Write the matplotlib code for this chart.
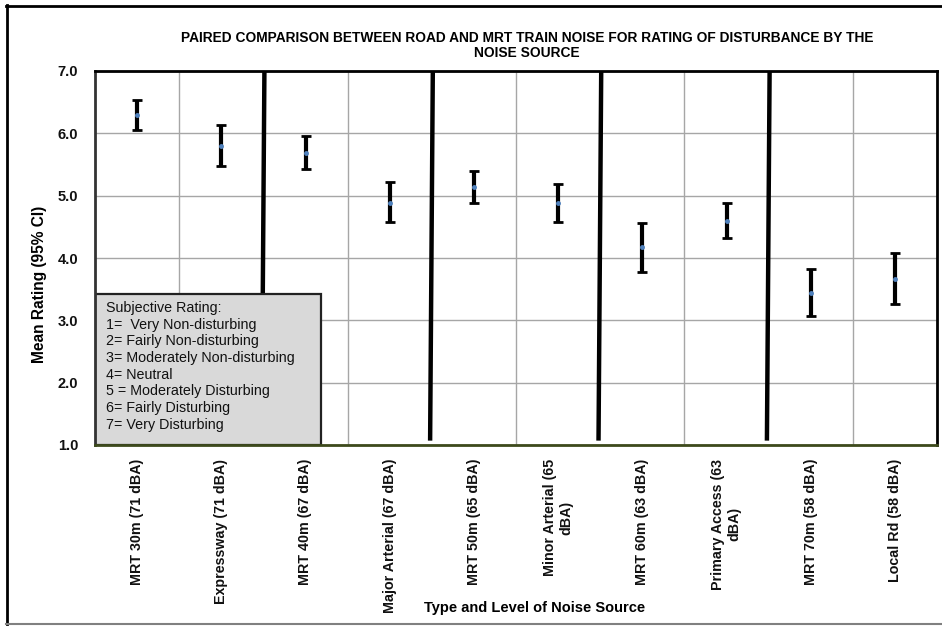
import matplotlib
matplotlib.use("Agg")
import matplotlib.pyplot as plt
from matplotlib.patches import Rectangle
from matplotlib.lines import Line2D

plt.rcParams['font.family'] = ['Liberation Sans', 'DejaVu Sans']

# Noise sources (tick labels) and their mean ratings with 95% CI bounds
categories = [
    "MRT 30m (71 dBA)", "Expressway (71 dBA)", "MRT 40m (67 dBA)",
    "Major Arterial (67 dBA)", "MRT 50m (65 dBA)", "Minor Arterial (65\ndBA)",
    "MRT 60m (63 dBA)", "Primary Access (63\ndBA)", "MRT 70m (58 dBA)",
    "Local Rd (58 dBA)",
]
mean_rating = [6.29, 5.80, 5.69, 4.89, 5.14, 4.88, 4.17, 4.59, 3.44, 3.66]
ci_upper = [6.53, 6.13, 5.95, 5.22, 5.40, 5.18, 4.56, 4.88, 3.82, 4.08]
ci_lower = [6.05, 5.47, 5.42, 4.58, 4.89, 4.58, 3.78, 4.32, 3.07, 3.26]

y_ticks = [1.0, 2.0, 3.0, 4.0, 5.0, 6.0, 7.0]
y_ticklabels = ["1.0", "2.0", "3.0", "4.0", "5.0", "6.0", "7.0"]

legend_lines = [
    "Subjective Rating:",
    "1=  Very Non-disturbing",
    "2= Fairly Non-disturbing",
    "3= Moderately Non-disturbing",
    "4= Neutral",
    "5 = Moderately Disturbing",
    "6= Fairly Disturbing",
    "7= Very Disturbing",
]

title = ("PAIRED COMPARISON BETWEEN ROAD AND MRT TRAIN NOISE FOR RATING OF DISTURBANCE BY THE\n"
         "NOISE SOURCE")

W, H = 942, 626
fig = plt.figure(figsize=(W / 100, H / 100), dpi=100)
ax = fig.add_axes([95 / W, 1 - 445 / H, 842 / W, 374 / H])

n = len(categories)
xs = list(range(n))
ax.set_xlim(-0.5, n - 0.5)
ax.set_ylim(1.0, 7.0)

# Horizontal grid
for yv in y_ticks:
    ax.axhline(yv, color="#a6a6a6", lw=1.0, zorder=1)
# Thin vertical separators between categories of a pair
for b in [0.5, 2.5, 4.5, 6.5, 8.5]:
    ax.axvline(b, color="#a6a6a6", lw=1.0, zorder=1)
# Thick separators between pairs (slightly hand-drawn lean)
for b in [1.5, 3.5, 5.5, 7.5]:
    ax.add_line(Line2D([b + 0.012, b - 0.02], [7.0, 1.07], color="black", lw=3.2,
                       zorder=2, solid_capstyle="butt"))

# Confidence interval bars
yerr = [[m - lo for m, lo in zip(mean_rating, ci_lower)],
        [hi - m for m, hi in zip(mean_rating, ci_upper)]]
eb = ax.errorbar(xs, mean_rating, yerr=yerr, fmt="o", ms=2.5, mfc="#4f81bd", mec="#4f81bd",
                 ecolor="black", elinewidth=3.0, capsize=3.5, capthick=2.0, zorder=4)
for cap in eb[1]:
    cap.set_color("#3d4a1c")

# Rating scale key
ax.add_patch(Rectangle((-0.5, 1.0), 2.684, 2.42, facecolor="#d9d9d9", edgecolor="#222222",
                       lw=1.6, zorder=5))
for i, line in enumerate(legend_lines):
    fig.text(106 / W, 1 - (308 + i * 16.7) / H, line, fontsize=10.3, color="#111111",
             ha="left", va="center", zorder=6)

# Axes styling
for side in ["top", "right"]:
    ax.spines[side].set_color("black")
    ax.spines[side].set_linewidth(2.0)
ax.spines["left"].set_color("#333333")
ax.spines["left"].set_linewidth(2.0)
ax.spines["bottom"].set_color("#3d4a1c")
ax.spines["bottom"].set_linewidth(2.0)
for s in ax.spines.values():
    s.set_zorder(7)

ax.set_yticks(y_ticks)
ax.set_yticklabels(y_ticklabels, fontsize=10.5, fontweight="bold", color="#111111")
ax.tick_params(axis="y", length=0, pad=12)
ax.set_xticks(xs)
ax.set_xticklabels(categories, rotation=90, fontsize=10.3, fontweight="bold",
                   ha="center", va="top", multialignment="center", color="#111111",
                   linespacing=1.2)
ax.tick_params(axis="x", length=0, pad=10)

fig.text(527 / W, 1 - 45.5 / H, title, ha="center", va="center", fontsize=9.9,
         fontweight="bold", linespacing=1.15)
fig.text(40 / W, 1 - 284 / H, "Mean Rating (95% CI)", rotation=90, ha="center",
         va="center", fontsize=11.2, fontweight="bold")
fig.text(535 / W, 1 - 608 / H, "Type and Level of Noise Source", ha="center", va="center",
         fontsize=10.5, fontweight="bold")

# Outer chart frame
fig.add_artist(Line2D([7 / W, 7 / W], [1 - 5 / H, 1 - 624 / H], color="black", lw=2.0))
fig.add_artist(Line2D([6 / W, 1.0], [1 - 6 / H, 1 - 6 / H], color="black", lw=2.0))
fig.add_artist(Line2D([6 / W, 1.0], [1 - 624 / H, 1 - 624 / H], color="#808080", lw=1.5))

fig.savefig("out.png", dpi=100)
